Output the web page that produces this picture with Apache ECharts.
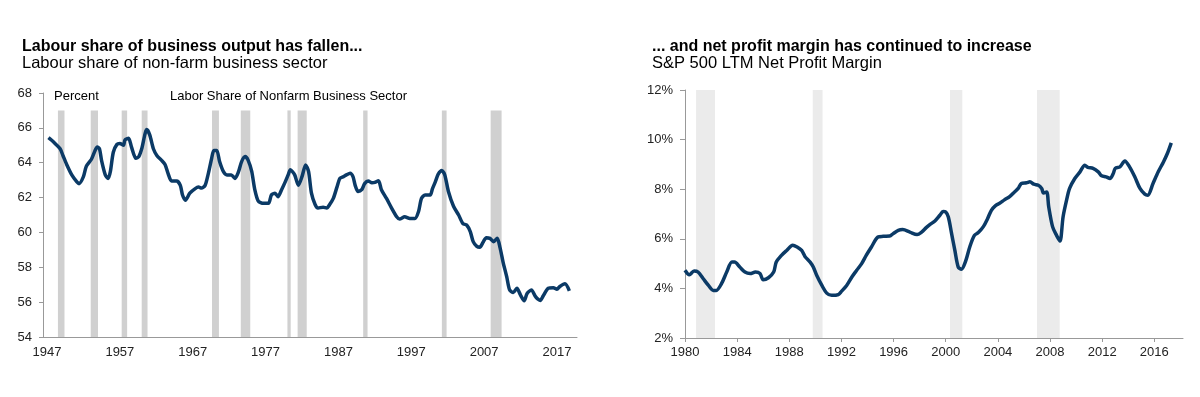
<!DOCTYPE html>
<html>
<head>
<meta charset="utf-8">
<script src="https://cdn.jsdelivr.net/npm/echarts@6/dist/echarts.min.js"></script>
<style>
    html, body { margin: 0; padding: 0; background: #fff; }
    #chart { width: 1200px; height: 397px; }
</style>
</head>
<body>
<div id="chart"></div>
<script>

// Data
// ------------------------------

// Labour share of non-farm business sector (percent)
var labourYears = [1947.2, 1947.6, 1948.1, 1948.8, 1949.2, 1949.7, 1950.4, 1951.1, 1951.4, 1952.0,
    1952.4, 1953.1, 1953.6, 1953.9, 1954.2, 1954.5, 1955.0, 1955.4, 1955.7, 1956.1,
    1956.6, 1957.0, 1957.5, 1957.7, 1958.2, 1958.6, 1959.2, 1959.6, 1960.0, 1960.7,
    1961.1, 1961.6, 1962.1, 1962.7, 1963.2, 1963.6, 1964.1, 1964.8, 1965.3, 1965.6,
    1966.0, 1966.6, 1967.3, 1967.8, 1968.2, 1968.7, 1969.1, 1969.6, 1969.9, 1970.3,
    1970.7, 1971.2, 1971.7, 1972.3, 1972.8, 1973.3, 1973.7, 1974.2, 1974.6, 1975.1,
    1975.5, 1976.0, 1976.7, 1977.4, 1977.8, 1978.3, 1978.7, 1979.2, 1979.7, 1980.1,
    1980.4, 1981.0, 1981.5, 1982.0, 1982.5, 1982.9, 1983.3, 1983.8, 1984.2, 1984.9,
    1985.4, 1985.8, 1986.3, 1986.8, 1987.2, 1987.7, 1988.1, 1988.6, 1989.0, 1989.3,
    1989.7, 1990.2, 1990.6, 1991.1, 1991.6, 1992.0, 1992.5, 1992.9, 1993.6, 1994.3,
    1995.0, 1995.4, 1996.1, 1996.8, 1997.5, 1998.0, 1998.4, 1998.9, 1999.6, 1999.9,
    2000.3, 2000.7, 2001.2, 2001.6, 2002.1, 2002.8, 2003.5, 2004.1, 2004.6, 2005.1,
    2005.5, 2006.0, 2006.4, 2006.9, 2007.3, 2007.8, 2008.3, 2008.8, 2009.2, 2009.6,
    2010.1, 2010.5, 2011.0, 2011.5, 2012.0, 2012.5, 2012.9, 2013.5, 2014.0, 2014.3,
    2014.7, 2015.1, 2015.8, 2016.5, 2017.0, 2017.4, 2018.1, 2018.7];
var labourShare = [65.44, 65.3, 65.1, 64.8, 64.4, 63.9, 63.3, 62.9, 62.8, 63.2,
    63.8, 64.2, 64.7, 64.9, 64.8, 64.1, 63.3, 63.1, 63.5, 64.6,
    65.05, 65.1, 65.0, 65.3, 65.4, 64.9, 64.25, 64.35, 64.8, 65.9,
    65.6, 64.8, 64.4, 64.15, 63.9, 63.4, 62.95, 62.95, 62.7, 62.15,
    61.85, 62.25, 62.5, 62.6, 62.55, 62.7, 63.3, 64.25, 64.7, 64.7,
    64.05, 63.5, 63.3, 63.3, 63.1, 63.5, 64.05, 64.35, 64.15, 63.5,
    62.5, 61.8, 61.67, 61.67, 62.15, 62.25, 62.05, 62.45, 62.9, 63.3,
    63.6, 63.3, 62.7, 63.2, 63.87, 63.5, 62.25, 61.6, 61.4, 61.45,
    61.4, 61.6, 61.95, 62.6, 63.1, 63.2, 63.3, 63.4, 63.2, 62.7,
    62.35, 62.45, 62.8, 62.95, 62.85, 62.87, 62.97, 62.45, 61.95, 61.4,
    60.9, 60.77, 60.9, 60.8, 60.8, 61.2, 61.95, 62.15, 62.15, 62.5,
    62.9, 63.34, 63.55, 63.3, 62.35, 61.5, 61.0, 60.5, 60.43, 60.05,
    59.47, 59.2, 59.15, 59.47, 59.7, 59.66, 59.47, 59.66, 59.1, 58.3,
    57.46, 56.7, 56.55, 56.8, 56.4, 56.08, 56.5, 56.7, 56.35, 56.2,
    56.1, 56.35, 56.8, 56.83, 56.74, 56.9, 57.05, 56.65];

// S&P 500 LTM net profit margin (percent)
var marginYears = [1980.0, 1980.33, 1980.7, 1981.0, 1981.4, 1981.8, 1982.17, 1982.4, 1982.8, 1983.2,
    1983.6, 1983.8, 1984.2, 1984.6, 1985.0, 1985.4, 1985.75, 1986.0, 1986.4, 1986.8,
    1987.0, 1987.4, 1987.8, 1988.26, 1988.6, 1988.95, 1989.2, 1989.6, 1989.84, 1990.1,
    1990.5, 1990.87, 1991.25, 1991.76, 1992.0, 1992.4, 1992.8, 1993.17, 1993.55, 1993.9,
    1994.3, 1994.8, 1995.2, 1995.7, 1995.97, 1996.36, 1996.7, 1997.25, 1997.8, 1998.15,
    1998.5, 1998.8, 1999.17, 1999.55, 1999.8, 2000.0, 2000.2, 2000.45, 2000.7, 2000.96,
    2001.2, 2001.5, 2001.86, 2002.2, 2002.5, 2002.9, 2003.2, 2003.5, 2003.8, 2004.16,
    2004.5, 2004.9, 2005.3, 2005.56, 2005.8, 2006.2, 2006.46, 2006.76, 2007.1, 2007.36,
    2007.5, 2007.74, 2007.9, 2008.2, 2008.5, 2008.76, 2009.0, 2009.27, 2009.5, 2009.9,
    2010.3, 2010.67, 2010.9, 2011.3, 2011.7, 2011.96, 2012.3, 2012.6, 2012.85, 2013.0,
    2013.36, 2013.74, 2014.1, 2014.5, 2014.9, 2015.27, 2015.5, 2015.9, 2016.3, 2016.7,
    2017.0, 2017.3];
var netMargin = [4.73, 4.55, 4.7, 4.66, 4.39, 4.12, 3.92, 3.92, 4.19, 4.66,
    5.06, 5.06, 4.86, 4.66, 4.6, 4.66, 4.6, 4.35, 4.43, 4.66,
    5.06, 5.33, 5.53, 5.74, 5.67, 5.53, 5.29, 5.06, 4.86, 4.53,
    4.12, 3.81, 3.72, 3.75, 3.88, 4.12, 4.46, 4.73, 5.0, 5.33,
    5.67, 6.07, 6.1, 6.11, 6.21, 6.34, 6.37, 6.27, 6.17, 6.27,
    6.45, 6.58, 6.72, 6.95, 7.1, 7.08, 6.88, 6.21, 5.53, 4.86,
    4.77, 5.06, 5.7, 6.14, 6.25, 6.5, 6.8, 7.15, 7.33, 7.44,
    7.57, 7.7, 7.9, 8.03, 8.23, 8.26, 8.3, 8.2, 8.16, 8.03,
    7.85, 7.89, 7.29, 6.48, 6.14, 5.91, 6.88, 7.56, 8.03, 8.43,
    8.7, 8.97, 8.88, 8.84, 8.7, 8.54, 8.5, 8.43, 8.63, 8.84,
    8.9, 9.14, 8.9, 8.5, 8.03, 7.8, 7.76, 8.23, 8.7, 9.1,
    9.44, 9.87];

// Recession shading [start, end]
var labourRecessions = [[1948.5, 1949.4], [1953.0, 1954.0], [1957.25, 1958.0], [1960.0, 1960.8],
    [1969.65, 1970.6], [1973.6, 1974.9], [1980.0, 1980.45], [1981.4, 1982.65],
    [1990.4, 1991.0], [2001.2, 2001.85], [2007.9, 2009.4]];
var marginRecessions = [[1980.85, 1982.3], [1989.8, 1990.55], [2000.33, 2001.27], [2007.0, 2008.74]];

// Tick labels
var labourTicks = [1947, 1957, 1967, 1977, 1987, 1997, 2007, 2017];
var marginTicks = [1980, 1984, 1988, 1992, 1996, 2000, 2004, 2008, 2012, 2016];


// Helpers
// ------------------------------

var FONT = 'Arial, "Liberation Sans", Helvetica, sans-serif';
var LINE_COLOR = '#0b3a66';

var pairs = function (xs, ys) {
    var out = [];
    for (var i = 0; i < xs.length; i++) {
        out.push([xs[i], ys[i]]);
    }
    return out;
};

var shading = function (periods, yLow, yHigh) {
    return periods.map(function (p) {
        return [{ coord: [p[0], yLow] }, { coord: [p[1], yHigh] }];
    });
};


// Chart
// ------------------------------

var chart = echarts.init(document.getElementById('chart'));

chart.setOption({
    animation: false,
    textStyle: { fontFamily: FONT },

    // Titles and in-chart labels
    graphic: [
        { type: 'text', x: 22, y: 47, style: { text: 'Labour share of business output has fallen...', font: 'bold 16px ' + FONT, fill: '#000', verticalAlign: 'middle' } },
        { type: 'text', x: 22, y: 63, style: { text: 'Labour share of non-farm business sector', font: '16.5px ' + FONT, fill: '#000', verticalAlign: 'middle' } },
        { type: 'text', x: 54, y: 96, style: { text: 'Percent', font: '13px ' + FONT, fill: '#000', verticalAlign: 'middle' } },
        { type: 'text', x: 170, y: 96, style: { text: 'Labor Share of Nonfarm Business Sector', font: '13px ' + FONT, fill: '#000', verticalAlign: 'middle' } },
        { type: 'text', x: 652, y: 47, style: { text: '... and net profit margin has continued to increase', font: 'bold 16px ' + FONT, fill: '#000', verticalAlign: 'middle' } },
        { type: 'text', x: 652, y: 63, style: { text: 'S&P 500 LTM Net Profit Margin', font: '16.5px ' + FONT, fill: '#000', verticalAlign: 'middle' } }
    ],

    grid: [
        { left: 43, right: 623, top: 93, bottom: 60 },
        { left: 685, right: 17, top: 90, bottom: 59 }
    ],

    xAxis: [{
        type: 'value',
        gridIndex: 0,
        min: 1946.45,
        max: 2019.75,
        axisLine: { lineStyle: { color: '#999', width: 1 } },
        axisTick: { show: false },
        splitLine: { show: false },
        axisLabel: {
            customValues: labourTicks,
            color: '#222',
            fontSize: 13,
            margin: 9,
            formatter: function (v) { return String(v); }
        }
    }, {
        type: 'value',
        gridIndex: 1,
        min: 1980,
        max: 2018.2,
        axisLine: { lineStyle: { color: '#999', width: 1 } },
        axisTick: { show: true, customValues: marginTicks, length: 4, lineStyle: { color: '#999' } },
        splitLine: { show: false },
        axisLabel: {
            customValues: marginTicks,
            color: '#222',
            fontSize: 13,
            margin: 8,
            formatter: function (v) { return String(v); }
        }
    }],

    yAxis: [{
        type: 'value',
        gridIndex: 0,
        min: 54,
        max: 68,
        interval: 2,
        axisLine: { show: true, lineStyle: { color: '#999', width: 1 } },
        axisTick: { show: true, length: 4, lineStyle: { color: '#999' } },
        splitLine: { show: false },
        axisLabel: { color: '#222', fontSize: 13, margin: 11 }
    }, {
        type: 'value',
        gridIndex: 1,
        min: 2,
        max: 12,
        interval: 2,
        axisLine: { show: true, lineStyle: { color: '#999', width: 1 } },
        axisTick: { show: true, length: 5, lineStyle: { color: '#999' } },
        splitLine: { show: false },
        axisLabel: { color: '#222', fontSize: 13, margin: 12, formatter: '{value}%' }
    }],

    series: [{
        // Recession bars, left
        type: 'line',
        xAxisIndex: 0,
        yAxisIndex: 0,
        data: [],
        z: 1,
        markArea: {
            silent: true,
            itemStyle: { color: '#d0d0d0' },
            data: shading(labourRecessions, 54, 67)
        }
    }, {
        // Recession bars, right
        type: 'line',
        xAxisIndex: 1,
        yAxisIndex: 1,
        data: [],
        z: 1,
        markArea: {
            silent: true,
            itemStyle: { color: '#ebebeb' },
            data: shading(marginRecessions, 2, 12)
        }
    }, {
        name: 'Labour share',
        type: 'line',
        xAxisIndex: 0,
        yAxisIndex: 0,
        z: 5,
        data: pairs(labourYears, labourShare),
        showSymbol: false,
        smooth: 0.25,
        lineStyle: { color: LINE_COLOR, width: 3.5 }
    }, {
        name: 'Net profit margin',
        type: 'line',
        xAxisIndex: 1,
        yAxisIndex: 1,
        z: 5,
        data: pairs(marginYears, netMargin),
        showSymbol: false,
        smooth: 0.3,
        lineStyle: { color: LINE_COLOR, width: 3.5 }
    }]
});
</script>
</body>
</html>
